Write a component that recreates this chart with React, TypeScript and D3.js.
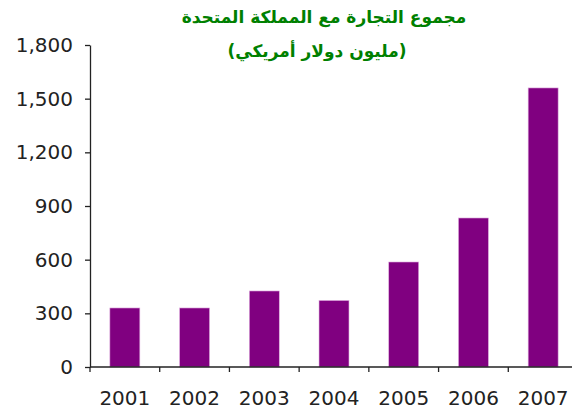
import React, { useEffect, useRef } from 'react';
import * as d3 from 'd3';

const years = ['2001', '2002', '2003', '2004', '2005', '2006', '2007'];
const tradeValues = [330, 330, 425, 372, 587, 833, 1560];
const yTicks = [0, 300, 600, 900, 1200, 1500, 1800];
const titleLines = ['مجموع التجارة مع المملكة المتحدة', '(مليون دولار أمريكي)'];

export default function App() {
  const ref = useRef<SVGSVGElement>(null);

  useEffect(() => {
    const svg = d3.select(ref.current);
    svg.selectAll('*').remove();

    const width = 572;
    const height = 412;
    const margin = { top: 45, left: 90, bottom: 367 };

    // scales
    const x = d3
      .scaleBand()
      .domain(years)
      .range([margin.left, 578])
      .paddingInner(0.57)
      .paddingOuter(0.285);

    const y = d3
      .scaleLinear()
      .domain([0, 1800])
      .range([margin.bottom, margin.top]);

    svg.attr('width', width).attr('height', height);

    // title, two lines
    svg
      .append('g')
      .selectAll('text')
      .data(titleLines)
      .join('text')
      .attr('x', (d, i) => (i === 0 ? 324 : 317))
      .attr('y', (d, i) => 23 + i * 34)
      .attr('text-anchor', 'middle')
      .attr('direction', 'rtl')
      .attr('fill', '#008000')
      .attr('font-family', 'DejaVu Sans')
      .attr('font-weight', 'bold')
      .attr('font-size', 17)
      .text((d) => d);

    // bars
    svg
      .append('g')
      .selectAll('rect')
      .data(tradeValues)
      .join('rect')
      .attr('x', (d, i) => x(years[i]))
      .attr('y', (d) => y(d))
      .attr('width', x.bandwidth())
      .attr('height', (d) => y(0) - y(d))
      .attr('fill', '#800080')
      .attr('stroke', '#e0b0e0')
      .attr('stroke-width', 0.6);

    // y axis
    const yAxis = svg
      .append('g')
      .attr('transform', `translate(${margin.left},0)`)
      .call(
        d3
          .axisLeft(y)
          .tickValues(yTicks)
          .tickFormat(d3.format(','))
          .tickSize(5)
          .tickSizeOuter(0)
          .tickPadding(12)
      );
    yAxis.select('.domain').attr('stroke', '#222').attr('stroke-width', 1.3);
    yAxis.selectAll('.tick line').attr('stroke', '#222').attr('stroke-width', 1.3);
    yAxis
      .selectAll('.tick text')
      .attr('fill', '#222')
      .attr('font-family', 'DejaVu Sans')
      .attr('font-size', 20);

    // x axis: line at zero, ticks between the bars
    const xAxis = svg.append('g');
    xAxis
      .append('line')
      .attr('x1', margin.left)
      .attr('x2', width)
      .attr('y1', y(0))
      .attr('y2', y(0))
      .attr('stroke', '#222')
      .attr('stroke-width', 1.3);

    const gap = (x.step() - x.bandwidth()) / 2;
    const bounds = years.map((yr) => (x(yr) as number) - gap);
    xAxis
      .selectAll('line.tick')
      .data(bounds)
      .join('line')
      .attr('class', 'tick')
      .attr('x1', (d) => d)
      .attr('x2', (d) => d)
      .attr('y1', y(0))
      .attr('y2', y(0) + 5)
      .attr('stroke', '#222')
      .attr('stroke-width', 1.3);

    xAxis
      .selectAll('text')
      .data(years)
      .join('text')
      .attr('x', (d) => (x(d) as number) + x.bandwidth() / 2)
      .attr('y', 405)
      .attr('text-anchor', 'middle')
      .attr('fill', '#222')
      .attr('font-family', 'DejaVu Sans')
      .attr('font-size', 20)
      .text((d) => d);
  }, []);

  return (
    <svg
      ref={ref}
      style={{ position: 'absolute', left: 0, top: 0, background: 'white' }}
    />
  );
}
